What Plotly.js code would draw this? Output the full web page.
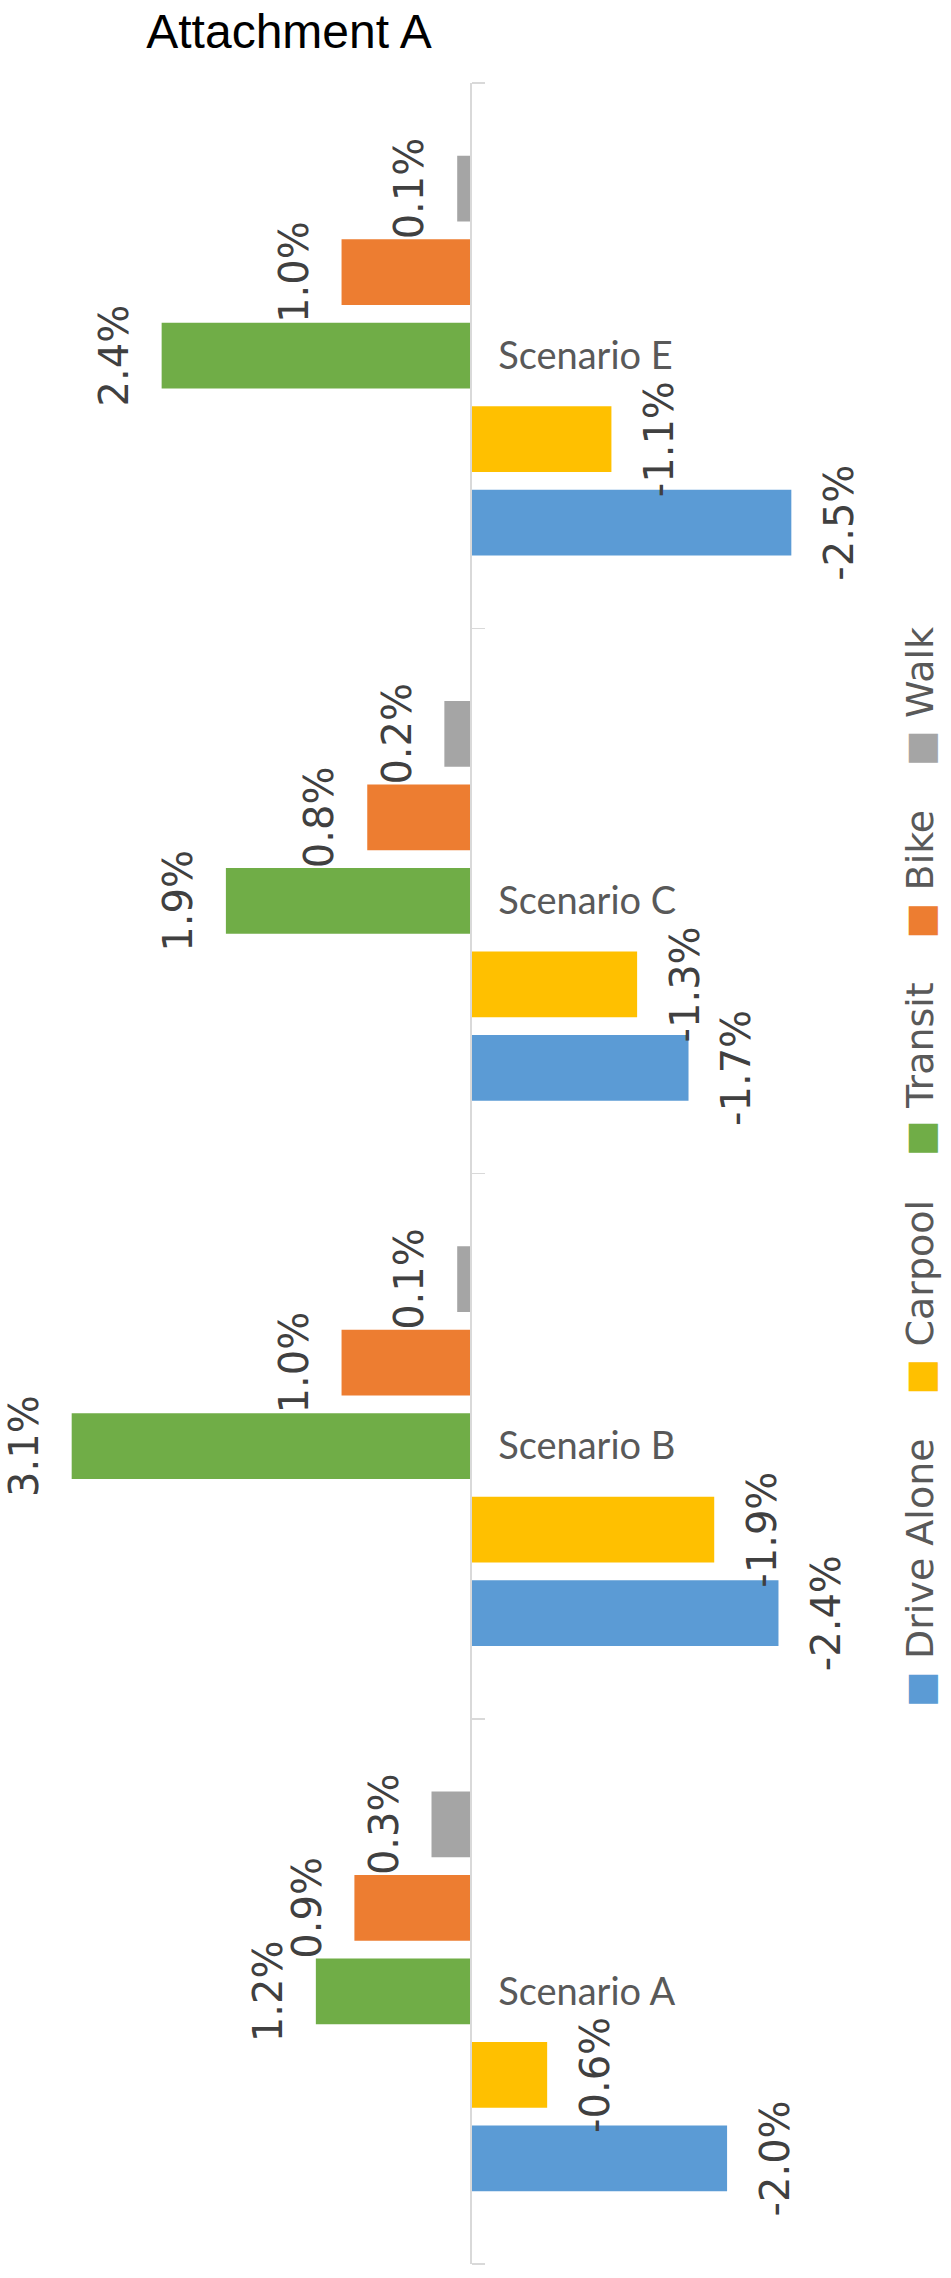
<!DOCTYPE html>
<html>
<head>
<meta charset="utf-8">
<script src="https://cdn.plot.ly/plotly-3.0.1.min.js"></script>
<style>html,body{margin:0;padding:0;background:#fff;}#chart{width:951px;height:2278px;}</style>
</head>
<body>
<div id="chart"></div>
<script>
// ---- data ----
const categories = ['Scenario A', 'Scenario B', 'Scenario C', 'Scenario E'];
const seriesNames = ['Drive Alone', 'Carpool', 'Transit', 'Bike', 'Walk'];
const driveAlone = [-2.0, -2.4, -1.7, -2.5];
const carpool    = [-0.6, -1.9, -1.3, -1.1];
const transit    = [1.2, 3.1, 1.9, 2.4];
const bike       = [0.9, 1.0, 0.8, 1.0];
const walk       = [0.3, 0.1, 0.2, 0.1];
const seriesColors = ['#5B9BD5', '#FFC000', '#70AD47', '#ED7D31', '#A5A5A5'];

// ---- styling ----
const xRange = [3.58, -3.19];           // reversed: positive values drawn leftward
const labelPad = 0.17;                   // gap between bar end and its label (value units)
const axisPos = xRange[0] / (xRange[0] - xRange[1]);
const seriesValues = [driveAlone, carpool, transit, bike, walk];

const traces = [];
seriesValues.forEach((vals, i) => {
  traces.push({
    type: 'bar', orientation: 'h', name: seriesNames[i],
    y: categories, x: vals, offsetgroup: String(i),
    marker: {color: seriesColors[i], line: {width: 0}},
    hoverinfo: 'skip', showlegend: false
  });
});
seriesValues.forEach((vals, i) => {
  traces.push({
    type: 'bar', orientation: 'h', name: seriesNames[i] + ' labels',
    y: categories, base: vals, x: vals.map(v => (v >= 0 ? labelPad : -labelPad)),
    offsetgroup: String(i),
    marker: {color: 'rgba(0,0,0,0)', line: {width: 0}},
    text: vals.map(v => v.toFixed(1) + '%'),
    textposition: 'outside', textangle: -90, constraintext: 'none', cliponaxis: false,
    outsidetextfont: {family: 'DejaVu Sans', size: 40, color: '#404040'},
    hoverinfo: 'skip', showlegend: false
  });
});

const legendParts = seriesNames.map((n, i) =>
  '<span style="color:' + seriesColors[i] + '">\u25A0</span>\u00A0' + n);
const legendText = legendParts.join('\u00A0\u00A0\u00A0\u2009');

const layout = {
  width: 951, height: 2278,
  margin: {l: 10, r: 71, t: 83, b: 14},
  paper_bgcolor: '#ffffff', plot_bgcolor: '#ffffff',
  barmode: 'group', bargap: 0.234, bargroupgap: 0.212,
  showlegend: false,
  title: {
    text: 'Attachment A',
    font: {family: 'Liberation Sans, Arial, sans-serif', size: 48, color: '#000000'},
    x: 289 / 951, xref: 'container', xanchor: 'center',
    y: 1 - 31 / 2278, yref: 'container', yanchor: 'middle'
  },
  xaxis: {
    range: xRange, showgrid: false, zeroline: false, showline: false,
    showticklabels: false, ticks: '', fixedrange: true
  },
  yaxis: {
    type: 'category', categoryorder: 'array', categoryarray: categories,
    anchor: 'free', position: axisPos, side: 'right',
    showline: true, linecolor: '#D9D9D9', linewidth: 1.5,
    ticks: 'outside', tickson: 'boundaries', ticklen: 13, tickwidth: 1.5, tickcolor: '#D9D9D9',
    ticklabelstandoff: 19,
    tickfont: {family: 'Lato, Carlito, sans-serif', size: 38, color: '#595959'},
    showgrid: false, zeroline: false, automargin: false, fixedrange: true
  },
  annotations: [{
    xref: 'paper', yref: 'paper', x: (920 - 10) / 870, y: (2264 - 1167) / 2181,
    xanchor: 'center', yanchor: 'middle', showarrow: false, textangle: -90,
    text: legendText,
    font: {family: 'DejaVu Sans', size: 38, color: '#595959'}
  }]
};

Plotly.newPlot('chart', traces, layout, {staticPlot: true, displayModeBar: false});
</script>
</body>
</html>
